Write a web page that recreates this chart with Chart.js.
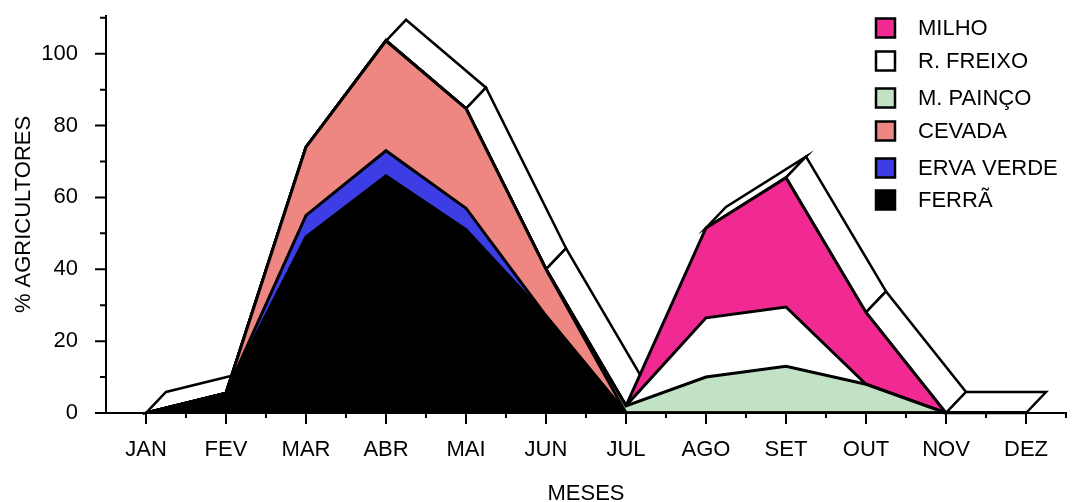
<!DOCTYPE html>
<html>
<head>
<meta charset="utf-8">
<script src="https://cdn.jsdelivr.net/npm/chart.js@4"></script>
<style>
  html, body { margin: 0; padding: 0; background: #fff; }
  #wrap { width: 1077px; height: 502px; }
</style>
</head>
<body>
<div id="wrap"><canvas id="myChart"></canvas></div>
<script>
// dados (% agricultores)
const meses = ['JAN', 'FEV', 'MAR', 'ABR', 'MAI', 'JUN', 'JUL', 'AGO', 'SET', 'OUT', 'NOV', 'DEZ'];
const ferra     = [0, 5.5, 49, 66, 51, 27, 0, 0, 0, 0, 0, 0];
const ervaVerde = [0, 0, 6, 7, 6, 0, 0, 0, 0, 0, 0, 0];
const cevada    = [0, 0, 19, 30.6, 27.7, 13, 0, 0, 0, 0, 0, 0];
const mPainco   = [0, 0, 0, 0, 0, 0, 2, 10, 13, 8, 0, 0];
const rFreixo   = [0, 0, 0, 0, 0, 0, 0, 16.5, 16.5, 0, 0, 0];
const milho     = [0, 0, 0, 0, 0, 0, 0, 25, 36, 20, 0, 0];
const yTicks = [0, 20, 40, 60, 80, 100];

Chart.defaults.font.family = "'Liberation Sans', Arial, sans-serif";
Chart.defaults.color = '#000';

function serie(label, data, cor, fill) {
    return {
        label: label,
        data: data,
        backgroundColor: cor,
        borderColor: '#000',
        borderWidth: 3,
        borderJoinStyle: 'miter',
        pointRadius: 0,
        tension: 0,
        fill: fill
    };
}

// faixa de profundidade (efeito 3D) atras do topo da pilha
const dx = 20, dy = -21;
const profundidade = {
    id: 'profundidade',
    beforeDatasetsDraw(chart) {
        const ctx = chart.ctx;
        const pts = chart.getDatasetMeta(chart.data.datasets.length - 1).data;
        ctx.save();
        ctx.lineWidth = 2.5;
        ctx.strokeStyle = '#000';
        ctx.fillStyle = '#fff';
        ctx.lineJoin = 'miter';
        for (let i = 0; i < pts.length - 1; i++) {
            const a = pts[i], b = pts[i + 1];
            if ((b.x - a.x) + (b.y - a.y) <= 0) continue; // face escondida
            ctx.beginPath();
            ctx.moveTo(a.x, a.y);
            ctx.lineTo(b.x, b.y);
            ctx.lineTo(b.x + dx, b.y + dy);
            ctx.lineTo(a.x + dx, a.y + dy);
            ctx.closePath();
            ctx.fill();
            ctx.stroke();
        }
        ctx.restore();
    }
};

// eixos e tracinhos
const eixos = {
    id: 'eixos',
    afterDatasetsDraw(chart) {
        const ctx = chart.ctx;
        const xs = chart.scales.x, ys = chart.scales.y;
        const area = chart.chartArea;
        ctx.save();
        ctx.strokeStyle = '#000';
        ctx.lineWidth = 2;
        ctx.beginPath();
        ctx.moveTo(area.left, area.top);
        ctx.lineTo(area.left, area.bottom);
        ctx.lineTo(area.right, area.bottom);
        for (let v = 0; v <= 110; v += 10) {
            const y = ys.getPixelForValue(v);
            const len = yTicks.includes(v) ? 11 : 6;
            ctx.moveTo(area.left - len, y);
            ctx.lineTo(area.left, y);
        }
        for (let i = 0; i < meses.length; i++) {
            const x = xs.getPixelForValue(i);
            ctx.moveTo(x, area.bottom);
            ctx.lineTo(x, area.bottom + 11);
        }
        const passo = (area.right - area.left) / meses.length;
        for (let i = 1; i <= meses.length; i++) {
            const x = area.left + i * passo;
            ctx.moveTo(x, area.bottom);
            ctx.lineTo(x, area.bottom + 5);
        }
        ctx.stroke();
        ctx.restore();
    }
};

// legenda dentro do grafico, ordem invertida
const legendaY = [28, 61, 98, 131, 168, 200];
const legenda = {
    id: 'legenda',
    afterDraw(chart) {
        const ctx = chart.ctx;
        const ds = chart.data.datasets.slice().reverse();
        ctx.save();
        ctx.font = "22px 'Liberation Sans', Arial, sans-serif";
        ctx.textBaseline = 'middle';
        ctx.textAlign = 'left';
        ds.forEach((d, i) => {
            const y = legendaY[i];
            ctx.fillStyle = d.backgroundColor;
            ctx.fillRect(876, y - 9.5, 19, 19);
            ctx.lineWidth = 2.5;
            ctx.strokeStyle = '#000';
            ctx.strokeRect(876, y - 9.5, 19, 19);
            ctx.fillStyle = '#000';
            ctx.fillText(d.label, 918, y + 1);
        });
        ctx.restore();
    }
};

function semPadding(scale) {
    scale.paddingTop = 0;
    scale.paddingBottom = 0;
    scale.paddingLeft = 0;
    scale.paddingRight = 0;
}

let myChart = document.getElementById('myChart').getContext('2d');

let grafico = new Chart(myChart, {
    type: 'line',
    data: {
        labels: meses,
        datasets: [
            serie('FERRÃ', ferra, '#000000', 'origin'),
            serie('ERVA VERDE', ervaVerde, '#3d3de6', '-1'),
            serie('CEVADA', cevada, '#ee8682', '-1'),
            serie('M. PAINÇO', mPainco, '#c2e2c6', '-1'),
            serie('R. FREIXO', rFreixo, '#ffffff', '-1'),
            serie('MILHO', milho, '#f02a92', '-1')
        ]
    },
    options: {
        responsive: true,
        maintainAspectRatio: false,
        animation: false,
        layout: { padding: { top: 16, right: 11, left: 0, bottom: 0 } },
        plugins: {
            legend: { display: false },
            tooltip: { enabled: false }
        },
        scales: {
            x: {
                offset: true,
                grid: { display: false, drawTicks: false },
                border: { display: true, color: '#000', width: 2 },
                ticks: { font: { size: 22 }, color: '#000', padding: 24, maxRotation: 0, autoSkip: false },
                title: { display: true, text: 'MESES', font: { size: 22, lineHeight: 1 }, color: '#000', padding: { top: 0, bottom: -3 } },
                afterFit(scale) { scale.height = 89; semPadding(scale); }
            },
            y: {
                stacked: true,
                min: 0,
                max: 110.5,
                grid: { display: false, drawTicks: false },
                border: { display: true, color: '#000', width: 2 },
                ticks: {
                    stepSize: 10,
                    font: { size: 22 },
                    color: '#000',
                    padding: 28,
                    callback: (v) => yTicks.includes(v) ? v : ''
                },
                title: { display: true, text: '% AGRICULTORES', font: { size: 22, lineHeight: 1 }, color: '#000', padding: { top: 13, bottom: 0 } },
                afterFit(scale) { scale.width = 106; semPadding(scale); }
            }
        }
    },
    plugins: [profundidade, eixos, legenda]
});
</script>
</body>
</html>
